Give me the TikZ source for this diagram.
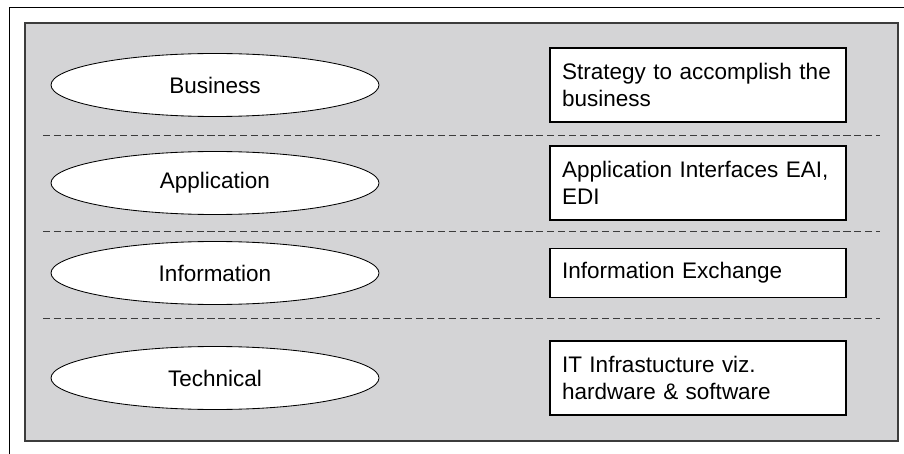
\documentclass[tikz,border=0pt]{standalone}
\usepackage{fontspec}
\setmainfont{Liberation Sans}
\usepackage{tikz}
\usetikzlibrary{shapes.geometric}
\definecolor{panelgray}{RGB}{212,212,214}
\definecolor{linegray}{RGB}{60,60,60}
\tikzstyle{layer} = [ellipse, minimum width = 8.2cm, minimum height = 1.575cm, inner sep = 0pt, text centered, draw = black, fill = white, line width = 0.6pt, font = \fontsize{16pt}{19.2pt}\selectfont]
\tikzstyle{desc} = [rectangle, minimum width = 7.4cm, minimum height = 1.85cm, text width = 6.8cm, align = left, inner xsep = 0.3cm, draw = black, fill = white, line width = 0.8pt, font = \fontsize{16pt}{19.2pt}\selectfont]
\tikzstyle{divider} = [dash pattern = on 5pt off 2.8pt, draw = linegray, line width = 0.7pt]

\begin{document}
\begin{tikzpicture}[node distance = 2.45cm]

\useasboundingbox (0,0) rectangle (22.6,-11.35);
\draw [line width = 0.7pt] (0.225,-11.35) |- (22.6,-0.175);
\draw [fill = panelgray, draw = linegray, line width = 1pt] (0.625,-0.575) rectangle (22.45,-11.025);

\node(business) [layer] at (5.375,-2.125) {Business};
\node(application) [layer, below of = business] {Application};
\node(information) [layer, below of = application, yshift=0.2cm] {Information};
\node(technical) [layer, below of = information, yshift=-0.175cm] {Technical};

\node(strategy) [desc, right of = business, node distance = 12.075cm] {Strategy to accomplish the\\ business};
\node(interfaces) [desc, right of = application, node distance = 12.075cm] {Application Interfaces EAI,\\ EDI};
\node(exchange) [desc, right of = information, node distance = 12.075cm, minimum height = 1.225cm] {Information Exchange};
\node(infra) [desc, right of = technical, node distance = 12.075cm] {IT Infrastucture viz.\\ hardware \& software};

\draw [divider] (1.075,-3.375) -- (22,-3.375);
\draw [divider] (1.075,-5.775) -- (22,-5.775);
\draw [divider] (1.075,-7.95) -- (22,-7.95);

\end{tikzpicture}
\end{document}
